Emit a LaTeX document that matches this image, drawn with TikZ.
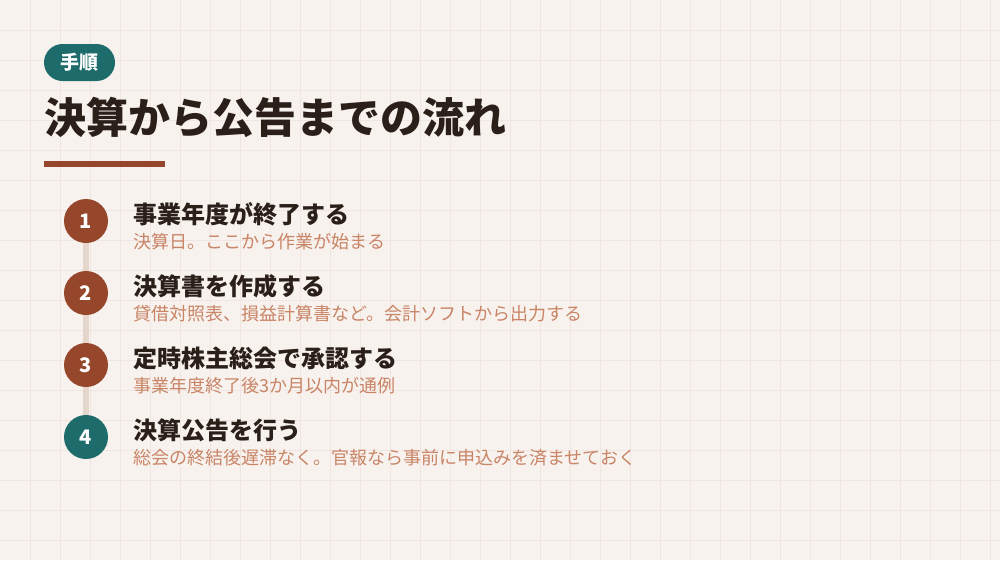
\documentclass[tikz,border=0pt]{standalone}
\usepackage{fontspec}
\setmainfont{Noto Sans CJK JP}
\usetikzlibrary{positioning}
\definecolor{bg}{HTML}{F7F2EE}
\definecolor{gridc}{HTML}{F0E5E0}
\definecolor{rust}{HTML}{96472B}
\definecolor{teal}{HTML}{1D6B6B}
\definecolor{ink}{HTML}{2B1F1A}
\definecolor{sub}{HTML}{C98466}
\definecolor{conn}{HTML}{E5D6CC}
\tikzset{
  num/.style={circle,minimum size=44pt,inner sep=0pt,text=white,font=\bfseries\fontsize{20pt}{20pt}\selectfont},
  steptitle/.style={anchor=west,inner sep=0pt,text=ink,font=\bfseries\fontsize{24pt}{24pt}\selectfont},
  stepsub/.style={anchor=west,inner sep=0pt,text=sub,font=\fontsize{18pt}{18pt}\selectfont},
  connector/.style={draw=conn,line width=6pt}
}
\begin{document}
\begin{tikzpicture}[x=1pt,y=-1pt]
\useasboundingbox (0,0) rectangle (1000,560);
\fill[bg] (0,0) rectangle (1000,560);
\foreach \i in {30,60,...,990} \draw[gridc,line width=1pt] (\i,0) -- (\i,560);
\foreach \j in {30,60,...,540} \draw[gridc,line width=1pt] (0,\j) -- (1000,\j);
% tag
\node[fill=teal,rounded corners=18.5pt,minimum width=71pt,minimum height=37pt,inner sep=0pt,text=white,font=\bfseries\fontsize{19pt}{19pt}\selectfont] (tag) at (79.5,62.5) {手順};
% title
\node[anchor=west,inner sep=0pt,text=ink,font=\bfseries\fontsize{42pt}{42pt}\selectfont] (title) at (44,117) {決算から公告までの流れ};
\fill[rust] (44,161) rectangle (165,167);
% connector
\coordinate (ctop) at (86,221);
\coordinate (cbot) at (86,437);
\draw[connector] (ctop) -- (cbot);
% steps
\node[num,fill=rust] (n1) at (86,221) {1};
\node[num,fill=rust] (n2) at (86,293) {2};
\node[num,fill=rust] (n3) at (86,365) {3};
\node[num,fill=teal] (n4) at (86,437) {4};
\node[steptitle] (t1) at (133,214) {事業年度が終了する};
\node[stepsub] (s1) at (133,241.5) {決算日。ここから作業が始まる};
\node[steptitle] (t2) at (133,286) {決算書を作成する};
\node[stepsub] (s2) at (133,313.5) {貸借対照表、損益計算書など。会計ソフトから出力する};
\node[steptitle] (t3) at (133,358) {定時株主総会で承認する};
\node[stepsub] (s3) at (133,385.5) {事業年度終了後3か月以内が通例};
\node[steptitle] (t4) at (133,430) {決算公告を行う};
\node[stepsub] (s4) at (133,457.5) {総会の終結後遅滞なく。官報なら事前に申込みを済ませておく};
\end{tikzpicture}
\end{document}
